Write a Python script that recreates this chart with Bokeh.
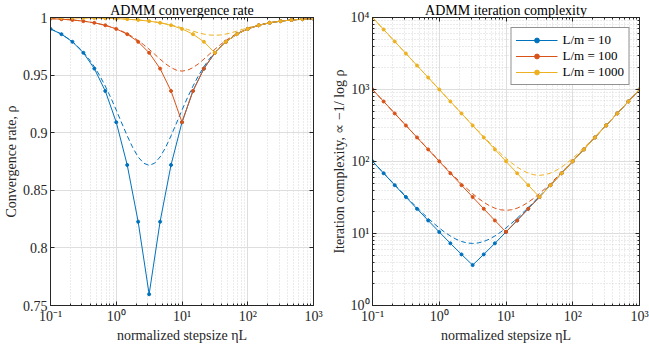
from bokeh.plotting import figure
from bokeh.layouts import row
from bokeh.models import FixedTicker, LinearAxis, LogAxis, Legend, LegendItem
from bokeh.embed import file_html
from bokeh.resources import INLINE

# ---------------- data ----------------
series_labels = ["L/m = 10", "L/m = 100", "L/m = 1000"]
colors = ["#0072BD", "#D95319", "#EDB120"]

stepsize = [0.1, 0.14678, 0.215443, 0.316228, 0.464159, 0.681292, 1, 1.467799,
            2.154435, 3.162278, 4.641589, 6.812921, 10, 14.67799, 21.54435,
            31.62278, 46.41589, 68.12921, 100, 146.7799, 215.4435, 316.2278,
            464.1589, 681.2921, 1000]

rate_10 = [0.990099, 0.985534, 0.978910, 0.969347, 0.955643, 0.936217, 0.909091,
           0.872007, 0.822746, 0.759747, 0.822746, 0.872007, 0.909091, 0.936217,
           0.955643, 0.969347, 0.978910, 0.985534, 0.990099, 0.993233, 0.995380,
           0.996848, 0.997850, 0.998534, 0.999001]
rate_100 = [0.999001, 0.998534, 0.997850, 0.996848, 0.995380, 0.993233, 0.990099,
            0.985534, 0.978910, 0.969347, 0.955643, 0.936217, 0.909091, 0.936217,
            0.955643, 0.969347, 0.978910, 0.985534, 0.990099, 0.993233, 0.995380,
            0.996848, 0.997850, 0.998534, 0.999001]
rate_1000 = [0.999900, 0.999853, 0.999785, 0.999684, 0.999536, 0.999319, 0.999001,
             0.998534, 0.997850, 0.996848, 0.995380, 0.993233, 0.990099, 0.985534,
             0.978910, 0.969347, 0.978910, 0.985534, 0.990099, 0.993233, 0.995380,
             0.996848, 0.997850, 0.998534, 0.999001]

iters_10 = [100.499, 68.628, 46.914, 32.120, 22.041, 15.173, 10.492, 7.302, 5.125,
            3.639, 5.125, 7.302, 10.492, 15.173, 22.041, 32.120, 46.914, 68.628,
            100.499, 147.279, 215.943, 316.728, 464.659, 681.792, 1000.500]
iters_100 = [1000.500, 681.792, 464.659, 316.728, 215.943, 147.279, 100.499, 68.628,
             46.914, 32.120, 22.041, 15.173, 10.492, 15.173, 22.041, 32.120, 46.914,
             68.628, 100.499, 147.279, 215.943, 316.728, 464.659, 681.792, 1000.500]
iters_1000 = [10000.50, 6813.42, 4642.09, 3162.78, 2154.93, 1468.30, 1000.500,
              681.792, 464.659, 316.728, 215.943, 147.279, 100.499, 68.628, 46.914,
              32.120, 46.914, 68.628, 100.499, 147.279, 215.943, 316.728, 464.659,
              681.792, 1000.500]

bound_x_10 = [0.1, 0.14678, 0.215443, 0.316228, 0.383119, 0.464159, 0.562341,
              0.681292, 0.825404, 1, 1.211528, 1.467799, 1.778279, 2.154435,
              2.610157, 3.162278, 3.831187, 4.641589, 5.623413, 6.812921, 8.254042,
              10, 12.11528, 14.67799, 17.78279, 21.54435, 26.10157, 31.62278,
              46.41589, 68.12921, 100, 146.7799, 215.4435, 316.2278, 464.1589,
              681.2921, 1000]
bound_rate_10 = [0.990140, 0.985635, 0.979164, 0.969991, 0.964132, 0.957292,
                 0.949396, 0.940423, 0.930433, 0.919627, 0.908376, 0.897279,
                 0.887146, 0.878916, 0.873519, 0.871637, 0.873519, 0.878916,
                 0.887146, 0.897279, 0.908376, 0.919627, 0.930433, 0.940423,
                 0.949396, 0.957292, 0.964132, 0.969991, 0.979164, 0.985635,
                 0.990140, 0.993250, 0.995387, 0.996851, 0.997851, 0.998535,
                 0.999001]
bound_iters_10 = [100.916, 69.114, 47.492, 32.821, 27.377, 22.911, 19.257, 16.280,
                  13.869, 11.935, 10.406, 9.226, 8.351, 7.748, 7.395, 7.279, 7.395,
                  7.748, 8.351, 9.226, 10.406, 11.935, 13.869, 16.280, 19.257,
                  22.911, 27.377, 32.821, 47.492, 69.114, 100.916, 147.643,
                  216.264, 317.015, 464.918, 682.028, 1000.717]

bound_x_100 = [0.1, 0.14678, 0.215443, 0.316228, 0.464159, 0.681292, 1, 1.211528,
               1.467799, 1.778279, 2.154435, 2.610157, 3.162278, 3.831187, 4.641589,
               5.623413, 6.812921, 8.254042, 10, 12.11528, 14.67799, 17.78279,
               21.54435, 26.10157, 31.62278, 38.31187, 46.41589, 56.23413, 68.12921,
               82.54042, 100, 146.7799, 215.4435, 316.2278, 464.1589, 681.2921, 1000]
bound_rate_100 = [0.999001, 0.998535, 0.997853, 0.996855, 0.995398, 0.993284,
                  0.990238, 0.988263, 0.985926, 0.983186, 0.980015, 0.976413,
                  0.972423, 0.968166, 0.963859, 0.959825, 0.956480, 0.954248,
                  0.953463, 0.954248, 0.956480, 0.959825, 0.963859, 0.968166,
                  0.972423, 0.976413, 0.980015, 0.983186, 0.985926, 0.988263,
                  0.990238, 0.993284, 0.995398, 0.996855, 0.997853, 0.998535,
                  0.999001]
bound_iters_100 = [1000.917, 682.278, 465.237, 317.429, 216.813, 148.386, 101.942,
                   84.701, 70.553, 58.974, 49.537, 41.893, 35.760, 30.910, 27.166,
                   24.388, 22.474, 21.353, 20.984, 21.353, 22.474, 24.388, 27.166,
                   30.910, 35.760, 41.893, 49.537, 58.974, 70.553, 84.701, 101.942,
                   148.386, 216.813, 317.429, 465.237, 682.278, 1000.917]

bound_x_1000 = [0.1, 0.14678, 0.215443, 0.316228, 0.464159, 0.681292, 1, 1.467799,
                2.154435, 3.162278, 3.831187, 4.641589, 5.623413, 6.812921, 8.254042,
                10, 12.11528, 14.67799, 17.78279, 21.54435, 26.10157, 31.62278,
                38.31187, 46.41589, 56.23413, 68.12921, 82.54042, 100, 121.1528,
                146.7799, 177.8279, 215.4435, 261.0157, 316.2278, 464.1589,
                681.2921, 1000]
bound_rate_1000 = [0.999900, 0.999853, 0.999785, 0.999684, 0.999536, 0.999320,
                   0.999002, 0.998538, 0.997862, 0.996884, 0.996245, 0.995487,
                   0.994593, 0.993552, 0.992360, 0.991031, 0.989600, 0.988138,
                   0.986758, 0.985603, 0.984827, 0.984554, 0.984827, 0.985603,
                   0.986758, 0.988138, 0.989600, 0.991031, 0.992360, 0.993552,
                   0.994593, 0.995487, 0.996245, 0.996884, 0.997862, 0.998538,
                   0.999002]
bound_iters_1000 = [10000.92, 6813.91, 4642.67, 3163.48, 2155.80, 1469.41, 1001.943,
                    683.717, 467.282, 320.367, 265.827, 221.068, 184.437, 154.581,
                    130.397, 110.991, 95.648, 83.801, 75.011, 68.955, 65.408, 64.240,
                    65.408, 68.955, 75.011, 83.801, 95.648, 110.991, 130.397,
                    154.581, 184.437, 221.068, 265.827, 320.367, 467.282, 683.717,
                    1001.943]

x_ticks = [0.1, 1, 10, 100, 1000]
x_tick_labels = ["10\u207b\u00b9", "10\u2070", "10\u00b9", "10\u00b2", "10\u00b3"]
rate_ticks = [0.75, 0.8, 0.85, 0.9, 0.95, 1]
rate_tick_labels = ["0.75", "0.8", "0.85", "0.9", "0.95", "1"]
iter_ticks = [1, 10, 100, 1000, 10000]
iter_tick_labels = ["10\u2070", "10\u00b9", "10\u00b2", "10\u00b3", "10\u2074"]

# ---------------- styling helpers ----------------
FONT = "Liberation Serif"
INK = "#262626"


def log_minor(decades):
    return [m * d for d in decades for m in range(2, 10)]


def style_axis(ax):
    ax.axis_line_color = INK
    ax.axis_line_width = 1
    ax.major_tick_in = 4
    ax.major_tick_out = 0
    ax.minor_tick_in = 2
    ax.minor_tick_out = 0
    ax.major_tick_line_color = INK
    ax.minor_tick_line_color = INK
    ax.major_label_text_font = FONT
    ax.major_label_text_font_size = "14px"
    ax.major_label_text_color = INK
    ax.axis_label_text_font = FONT
    ax.axis_label_text_font_size = "14px"
    ax.axis_label_text_font_style = "normal"
    ax.axis_label_text_color = INK
    ax.axis_label_standoff = 1
    ax.major_label_standoff = 3


def blank_axis(ax, ticks):
    style_axis(ax)
    ax.major_label_overrides = {t: "" for t in ticks}
    ax.major_label_text_font_size = "1px"
    ax.major_label_text_color = None
    ax.major_label_standoff = 0
    ax.axis_label_standoff = 0


def make_fig(width, y_type, y_range, title, min_left, min_right):
    p = figure(width=width, height=345, x_axis_type="log", y_axis_type=y_type,
               x_range=(0.1, 1000), y_range=y_range, output_backend="svg",
               toolbar_location=None, min_border_left=min_left,
               min_border_right=min_right, min_border_top=0, min_border_bottom=0)
    p.title.text = title
    p.title.align = "center"
    p.title.text_font = FONT
    p.title.text_font_size = "14px"
    p.title.text_font_style = "normal"
    p.title.text_color = "#000000"
    p.title.standoff = 0
    p.outline_line_color = INK
    p.background_fill_color = "white"
    p.border_fill_color = "white"
    return p


x_major = FixedTicker(ticks=x_ticks, minor_ticks=log_minor([0.1, 1, 10, 100]))

# ---------------- left: convergence rate ----------------
p1 = make_fig(327, "linear", (0.75, 1.0), "ADMM convergence rate", 46, 14)
p1.xaxis.ticker = x_major
p1.xaxis.major_label_overrides = dict(zip(x_ticks, x_tick_labels))
rate_ticker = FixedTicker(ticks=rate_ticks, minor_ticks=[])
p1.yaxis.ticker = rate_ticker
p1.yaxis.major_label_overrides = dict(zip(rate_ticks, rate_tick_labels))
p1.xaxis.axis_label = "normalized stepsize \u03b7L"
p1.yaxis.axis_label = "Convergence rate, \u03c1"
style_axis(p1.xaxis[0])
style_axis(p1.yaxis[0])
top1 = LogAxis(ticker=x_major)
right1 = LinearAxis(ticker=rate_ticker)
blank_axis(top1, x_ticks)
blank_axis(right1, rate_ticks)
p1.add_layout(top1, "above")
p1.add_layout(right1, "right")
p1.xgrid.grid_line_color = "#dedede"
p1.xgrid.minor_grid_line_color = "#d6d6d6"
p1.xgrid.minor_grid_line_dash = "1 2"
p1.ygrid.grid_line_color = "#dedede"

for col, xs, ys in zip(colors, [bound_x_10, bound_x_100, bound_x_1000],
                       [bound_rate_10, bound_rate_100, bound_rate_1000]):
    p1.line(xs, ys, color=col, line_width=1, line_dash="5 3")
for col, ys in zip(colors, [rate_10, rate_100, rate_1000]):
    p1.line(stepsize, ys, color=col, line_width=1)
    p1.scatter(stepsize, ys, color=col, size=3)

# ---------------- right: iteration complexity ----------------
p2 = make_fig(322, "log", (1, 10000), "ADMM iteration complexity", 45, 10)
p2.xaxis.ticker = x_major
p2.xaxis.major_label_overrides = dict(zip(x_ticks, x_tick_labels))
y_major = FixedTicker(ticks=iter_ticks, minor_ticks=log_minor([1, 10, 100, 1000]))
p2.yaxis.ticker = y_major
p2.yaxis.major_label_overrides = dict(zip(iter_ticks, iter_tick_labels))
p2.xaxis.axis_label = "normalized stepsize \u03b7L"
p2.yaxis.axis_label = "Iteration complexity, \u221d \u22121/ log \u03c1"
style_axis(p2.xaxis[0])
style_axis(p2.yaxis[0])
top2 = LogAxis(ticker=x_major)
right2 = LogAxis(ticker=y_major)
blank_axis(top2, x_ticks)
blank_axis(right2, iter_ticks)
p2.add_layout(top2, "above")
p2.add_layout(right2, "right")
for g in (p2.xgrid, p2.ygrid):
    g.grid_line_color = "#dedede"
    g.minor_grid_line_color = "#d6d6d6"
    g.minor_grid_line_dash = "1 2"

for col, xs, ys in zip(colors, [bound_x_10, bound_x_100, bound_x_1000],
                       [bound_iters_10, bound_iters_100, bound_iters_1000]):
    p2.line(xs, ys, color=col, line_width=1, line_dash="5 3")
items = []
for lab, col, ys in zip(series_labels, colors, [iters_10, iters_100, iters_1000]):
    r_line = p2.line(stepsize, ys, color=col, line_width=1)
    r_pts = p2.scatter(stepsize, ys, color=col, size=3)
    items.append(LegendItem(label=lab, renderers=[r_line, r_pts]))

legend = Legend(items=items, location="top_right")
legend.label_text_font = FONT
legend.label_text_font_size = "13px"
legend.label_text_font_style = "normal"
legend.label_text_color = "#000000"
legend.border_line_color = INK
legend.border_line_width = 0.6
legend.background_fill_alpha = 1
legend.glyph_width = 42
legend.glyph_height = 12
legend.label_height = 12
legend.spacing = 0
legend.padding = 4
legend.margin = 10
legend.label_standoff = 5
p2.add_layout(legend)

layout = row(p1, p2)
open("out.html", "w").write(file_html(layout, INLINE))
